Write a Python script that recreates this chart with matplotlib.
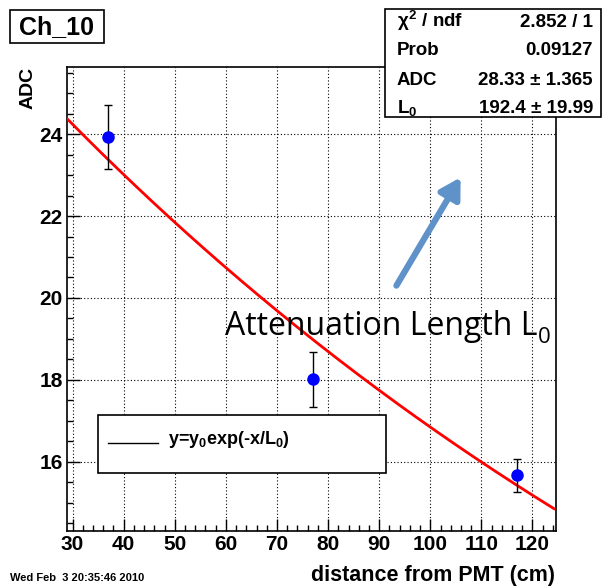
import matplotlib
matplotlib.use("Agg")
import matplotlib.pyplot as plt
import numpy as np
from matplotlib.patches import Rectangle, FancyArrowPatch
from matplotlib.lines import Line2D
from matplotlib.ticker import MultipleLocator

# measured points
distance = [37, 77, 117]
adc = [23.93, 18.02, 15.67]
adc_err = [0.78, 0.67, 0.41]

# fit parameters (from the stats box)
fit_adc = 28.33
fit_len = 192.4
stats_names = [r"$\chi^{2}$ / ndf", "Prob", "ADC", "L$_0$"]
stats_values = ["2.852 / 1", "0.09127", "28.33 \u00b1 1.365", "192.4 \u00b1 19.99"]

W, H = 604, 586

plt.rcParams["font.family"] = "Liberation Sans"
plt.rcParams["font.weight"] = "bold"
plt.rcParams["mathtext.fontset"] = "custom"
plt.rcParams["mathtext.rm"] = "Liberation Sans:bold"
plt.rcParams["mathtext.it"] = "Liberation Sans:bold"
plt.rcParams["mathtext.bf"] = "Liberation Sans:bold"


def fx(px):
    return px / W


def fy(py):
    return 1 - py / H


fig = plt.figure(figsize=(W / 100, H / 100), dpi=100)
ax = fig.add_axes([fx(67), fy(531), fx(556) - fx(67), fy(67) - fy(531)])

ax.set_xlim(28.9, 124.6)
ax.set_ylim(14.31, 25.64)

xs = np.linspace(28.9, 124.2, 200)
ax.plot(xs, fit_adc * np.exp(-xs / fit_len), color="red", lw=2, zorder=3)
ax.errorbar(distance, adc, yerr=adc_err, fmt="o", color="blue", ms=8,
            ecolor="black", elinewidth=1, capsize=3, capthick=1, zorder=4)

ax.xaxis.set_major_locator(MultipleLocator(10))
ax.xaxis.set_minor_locator(MultipleLocator(2))
ax.yaxis.set_major_locator(MultipleLocator(2))
ax.yaxis.set_minor_locator(MultipleLocator(0.5))
ax.tick_params(which="both", direction="in", top=False, right=False, width=1)
ax.tick_params(which="major", length=9, labelsize=15, pad=3)
ax.tick_params(which="minor", length=4.5)
ax.grid(True, which="major", color="black", linestyle=(0, (1, 2)), lw=0.8)
for s in ax.spines.values():
    s.set_linewidth(1.2)

# axis titles
fig.text(fx(28), fy(67), "ADC", rotation=90, ha="center", va="top", fontsize=14)
fig.text(fx(555), fy(575), "distance from PMT (cm)", ha="right", va="center", fontsize=15.5)
fig.text(fx(10), fy(578), "Wed Feb  3 20:35:46 2010", ha="left", va="center", fontsize=8)

# title box
fig.patches.append(Rectangle((fx(10), fy(43)), fx(104) - fx(10), fy(10) - fy(43),
                             transform=fig.transFigure, fc="white", ec="black", lw=1.2))
fig.text(fx(57), fy(27), "Ch_10", ha="center", va="center", fontsize=18)

# stats box
fig.patches.append(Rectangle((fx(385), fy(117)), fx(601) - fx(385), fy(9) - fy(117),
                             transform=fig.transFigure, fc="white", ec="black", lw=1.2, zorder=5))
rows_base = [27, 55, 85, 113]
for name, val, ry in zip(stats_names, stats_values, rows_base):
    fig.text(fx(397), fy(ry), name, ha="left", va="baseline", fontsize=13.5, zorder=6)
    fig.text(fx(593), fy(ry), val, ha="right", va="baseline", fontsize=13.5, zorder=6)

# legend box
fig.patches.append(Rectangle((fx(98), fy(473)), fx(386) - fx(98), fy(415) - fy(473),
                             transform=fig.transFigure, fc="white", ec="black", lw=1.2, zorder=5))
fig.lines.append(Line2D([fx(108), fx(158)], [fy(443), fy(443)], transform=fig.transFigure,
                        color="black", lw=1, zorder=6))
fig.text(fx(168), fy(440), "y=y$_0$exp(-x/L$_0$)", ha="left", va="center", fontsize=13, zorder=6)

# annotation
t = fig.text(fx(225), fy(335), "Attenuation Length L", ha="left", va="baseline",
             fontsize=23, family="Open Sans", weight="normal")
fig.canvas.draw()
bb = t.get_window_extent()
fig.text(bb.x1 / fig.dpi / fig.get_figwidth() + 0.001, fy(343), "0", ha="left", va="baseline",
         fontsize=16, family="Open Sans", weight="normal")
fig.patches.append(FancyArrowPatch(
    (fx(395), fy(288)), (fx(462), fy(175)), transform=fig.transFigure,
    arrowstyle="-|>,head_length=0.6,head_width=0.35", mutation_scale=20,
    color="#5e92c9", lw=4.5, zorder=7))

fig.savefig("out.png", dpi=100)
